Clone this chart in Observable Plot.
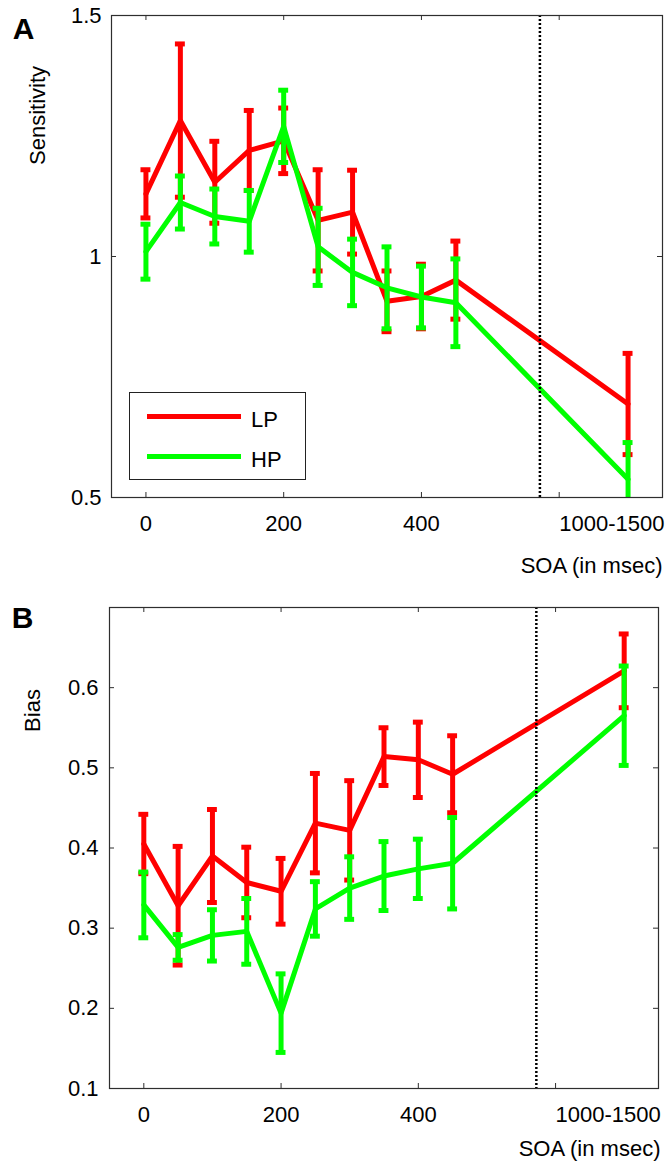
<!DOCTYPE html>
<html>
<head>
<meta charset="utf-8">
<script src="https://cdn.jsdelivr.net/npm/d3@7"></script>
<script src="https://cdn.jsdelivr.net/npm/@observablehq/plot@0.6"></script>
<style>
  html, body { margin: 0; padding: 0; background: #fff; }
  #fig { position: relative; width: 668px; height: 1163px; background: #fff; font-family: 'Liberation Sans', Arial, sans-serif; }
  #fig svg { position: absolute; left: 0; }
  .legend { position: absolute; border: 1px solid #222; background: #fff; box-sizing: border-box; }
  .legend .ln { position: absolute; height: 5px; }
  .legend .lb { position: absolute; font-size: 22px; line-height: 22px; color: #000; }
</style>
</head>
<body>
<div id="fig"></div>
<script>
// ---- data ----
const soa = [0, 50, 100, 150, 200, 250, 300, 350, 400, 450, 700];
const soaTicks = [0, 200, 400, 600];
const soaTickLabels = ["0", "200", "400", "1000-1500"];
const breakSoa = [572];

const seriesNames = ["LP", "HP"];
const seriesColors = ["#ff0000", "#00ff00"];

const sensLP = [1.13, 1.282, 1.154, 1.22, 1.24, 1.075, 1.092, 0.907, 0.917, 0.951, 0.694];
const sensLPErr = [0.05, 0.159, 0.085, 0.083, 0.068, 0.105, 0.087, 0.063, 0.067, 0.081, 0.105];
const sensHP = [1.01, 1.112, 1.083, 1.073, 1.27, 1.02, 0.967, 0.935, 0.916, 0.904, 0.538];
const sensHPErr = [0.057, 0.055, 0.057, 0.064, 0.075, 0.08, 0.069, 0.085, 0.064, 0.091, 0.076];
const sensTicks = [0.5, 1, 1.5];
const sensTickLabels = ["0.5", "1", "1.5"];

const biasLP = [0.405, 0.328, 0.39, 0.357, 0.346, 0.431, 0.422, 0.514, 0.51, 0.492, 0.621];
const biasLPErr = [0.037, 0.074, 0.058, 0.044, 0.041, 0.062, 0.062, 0.036, 0.047, 0.048, 0.046];
const biasHP = [0.329, 0.276, 0.291, 0.296, 0.194, 0.324, 0.35, 0.365, 0.374, 0.381, 0.565];
const biasHPErr = [0.041, 0.016, 0.032, 0.041, 0.049, 0.034, 0.039, 0.043, 0.037, 0.057, 0.062];
const biasTicks = [0.1, 0.2, 0.3, 0.4, 0.5, 0.6];
const biasTickLabels = ["0.1", "0.2", "0.3", "0.4", "0.5", "0.6"];

// ---- drawing ----
const FONT = "'Liberation Sans', Arial, sans-serif";
const FS = 22;
const AXIS = "#2e2e2e";
const CAP = 7.2; // half-width of error-bar caps in SOA units

function rows(means, errs) {
  return soa.map((s, i) => ({soa: s, mean: means[i], err: errs[i]}));
}

function seriesMarks(data, color) {
  return [
    Plot.line(data, {x: "soa", y: "mean", stroke: color, strokeWidth: 5, clip: true}),
    Plot.ruleX(data, {x: "soa", y1: d => d.mean - d.err, y2: d => d.mean + d.err, stroke: color, strokeWidth: 5, clip: true}),
    Plot.ruleY(data, {x1: d => d.soa - CAP, x2: d => d.soa + CAP, y: d => d.mean + d.err, stroke: color, strokeWidth: 5, clip: true}),
    Plot.ruleY(data, {x1: d => d.soa - CAP, x2: d => d.soa + CAP, y: d => d.mean - d.err, stroke: color, strokeWidth: 5, clip: true})
  ];
}

function panel(o) {
  const fw = o.width - o.ml - o.mr;
  const fh = o.height - o.mt - o.mb;
  const yt = o.yTicks.map((v, i) => ({v, t: o.yTickLabels[i]}));
  const xt = soaTicks.map((v, i) => ({v, t: soaTickLabels[i]}));
  const lastX = xt.slice(-1);
  const restX = xt.slice(0, -1);
  return Plot.plot({
    width: o.width,
    height: o.height,
    marginLeft: o.ml, marginRight: o.mr, marginTop: o.mt, marginBottom: o.mb,
    x: {domain: [-50, 750], axis: null},
    y: {domain: o.yDomain, axis: null},
    style: {fontFamily: FONT, fontSize: FS + "px", background: "transparent", overflow: "visible"},
    marks: [
      ...seriesMarks(rows(o.lp, o.lpErr), seriesColors[0]),
      ...seriesMarks(rows(o.hp, o.hpErr), seriesColors[1]),
      Plot.ruleX(breakSoa, {x: d => d, stroke: "#000", strokeWidth: 2.5, strokeDasharray: "2,2"}),
      Plot.frame({stroke: AXIS, strokeWidth: 1.2}),
      // inward ticks
      Plot.ruleX(soaTicks, {x: d => d, insetTop: fh - 5, stroke: AXIS}),
      Plot.ruleX(soaTicks, {x: d => d, insetBottom: fh - 5, stroke: AXIS}),
      Plot.ruleY(o.yTicks, {y: d => d, insetRight: fw - 5, stroke: AXIS}),
      Plot.ruleY(o.yTicks, {y: d => d, insetLeft: fw - 5, stroke: AXIS}),
      // tick labels
      Plot.text(restX, {x: "v", text: "t", frameAnchor: "bottom", dy: 26, textAnchor: "middle", lineAnchor: "middle", fontSize: FS, fill: "#000"}),
      Plot.text(lastX, {x: "v", text: "t", frameAnchor: "bottom", dy: 26, dx: 0, textAnchor: "start", lineAnchor: "middle", fontSize: FS, fill: "#000"}),
      Plot.text(yt, {y: "v", text: "t", frameAnchor: "left", dx: o.ytdx, textAnchor: "end", lineAnchor: "middle", fontSize: FS, fill: "#000"}),
      // axis titles
      Plot.text(["SOA (in msec)"], {text: d => d, frameAnchor: "bottom-right", dy: o.xlabDy, dx: o.xlabDx, textAnchor: "end", lineAnchor: "middle", fontSize: FS, fill: "#000"}),
      Plot.text([o.yLabel], {text: d => d, frameAnchor: "top-left", dx: o.ylabDx, dy: o.ylabDy, rotate: -90, textAnchor: "middle", lineAnchor: "middle", fontSize: FS, fill: "#000"}),
      Plot.text([o.letter], {text: d => d, frameAnchor: "top-left", dx: o.letDx, dy: o.letDy, textAnchor: "middle", lineAnchor: "middle", fontSize: 30, fontWeight: "bold", fill: "#000"})
    ]
  });
}

const fig = document.getElementById("fig");

const A = panel({
  width: 668, height: 580, ml: 111, mr: 6, mt: 15, mb: 83,
  yDomain: [0.5, 1.5], yTicks: sensTicks, yTickLabels: sensTickLabels,
  lp: sensLP, lpErr: sensLPErr, hp: sensHP, hpErr: sensHPErr,
  ytdx: -10, xlabDy: 68, xlabDx: 0,
  yLabel: "Sensitivity", ylabDx: -74, ylabDy: 100,
  letter: "A", letDx: -88, letDy: 14
});
A.style.top = "0px";
fig.appendChild(A);

const B = panel({
  width: 668, height: 583, ml: 109, mr: 10, mt: 27, mb: 75,
  yDomain: [0.1, 0.7], yTicks: biasTicks, yTickLabels: biasTickLabels,
  lp: biasLP, lpErr: biasLPErr, hp: biasHP, hpErr: biasHPErr,
  ytdx: -11, xlabDy: 60, xlabDx: 2,
  yLabel: "Bias", ylabDx: -77, ylabDy: 103,
  letter: "B", letDx: -87, letDy: 11
});
B.style.top = "580px";
fig.appendChild(B);

// legend (panel A)
const leg = document.createElement("div");
leg.className = "legend";
Object.assign(leg.style, {left: "129px", top: "392px", width: "177px", height: "88px"});
seriesNames.forEach((name, i) => {
  const ln = document.createElement("div");
  ln.className = "ln";
  Object.assign(ln.style, {left: "17px", width: "94px", top: (21 + i * 40) + "px", background: seriesColors[i]});
  const lb = document.createElement("div");
  lb.className = "lb";
  lb.textContent = name;
  Object.assign(lb.style, {left: "121px", top: (16 + i * 40) + "px"});
  leg.appendChild(ln);
  leg.appendChild(lb);
});
fig.appendChild(leg);
</script>
</body>
</html>
